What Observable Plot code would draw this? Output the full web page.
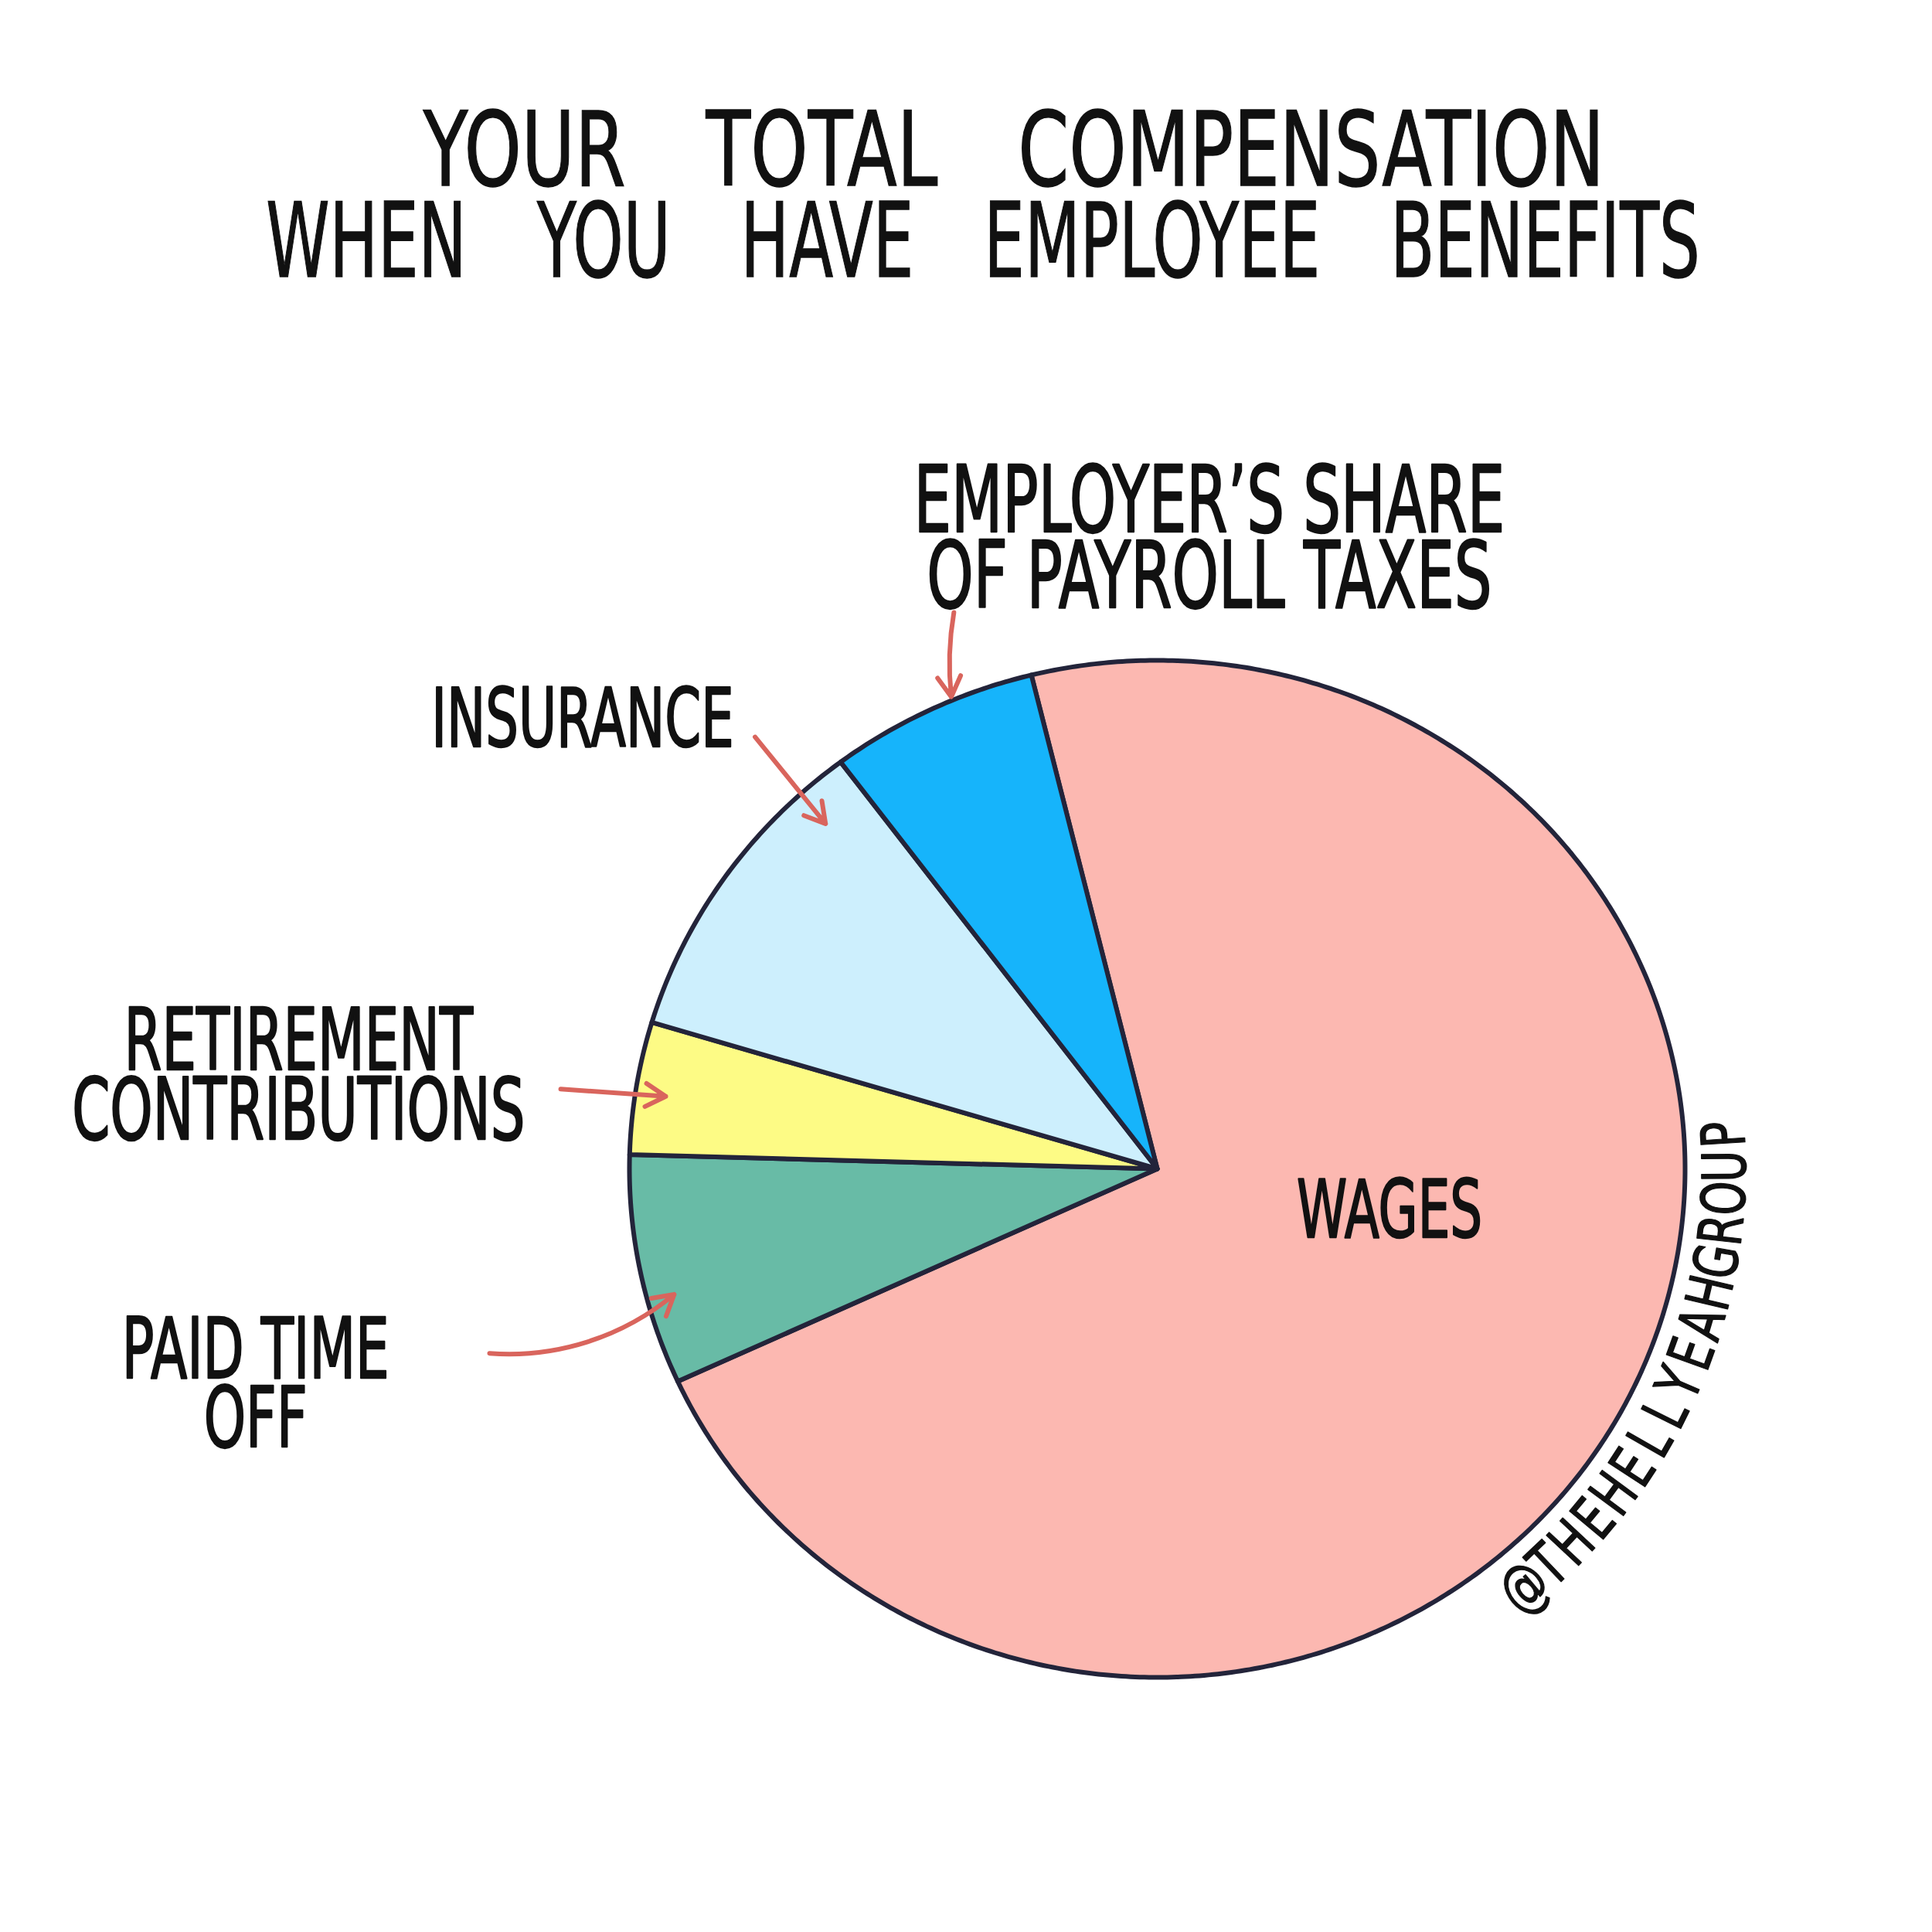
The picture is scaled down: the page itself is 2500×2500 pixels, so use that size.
<!DOCTYPE html>
<html>
<head>
<meta charset="utf-8">
<script src="https://cdn.jsdelivr.net/npm/d3@7"></script>
<script src="https://cdn.jsdelivr.net/npm/@observablehq/plot@0.6"></script>
<style>
  html, body { margin: 0; padding: 0; background: #fff; }
  #page { width: 2500px; height: 2500px; position: relative; overflow: hidden; background: #fff; }
  #title { position: relative; width: 2500px; height: 400px; font-family: "DejaVu Sans", sans-serif; color: #111; }
  .tline { position: absolute; left: -1250px; width: 5000px; text-align: center; font-size: 134px; line-height: 134px;
           white-space: nowrap; -webkit-text-stroke: 1.5px #111; transform-origin: 2500px 50%; }
</style>
</head>
<body>
<div id="page"><div id="title"></div><div id="chart"></div></div>
<script>
// ---------------- data ----------------
const titleLines = ["YOUR TOTAL COMPENSATION", "WHEN YOU HAVE EMPLOYEE BENEFITS"];
const categories = ["Wages", "Paid time off", "Retirement contributions", "Insurance", "Employer's share of payroll taxes"];
const shares = [71.9, 7.3, 4.2, 10.1, 6.4]; // percent of total compensation
const labelTexts = ["WAGES", "PAID TIME\nOFF", "RETIREMENT\nCONTRIBUTIONS", "INSURANCE", "EMPLOYER’S SHARE\nOF PAYROLL TAXES"];
const watermark = "@THEHELLYEAHGROUP";

// ---------------- styles / layout ----------------
const palette = ["#fcb8b1", "#68bba6", "#fdfb85", "#cdeffd", "#16b4fb"];
const W = 2500, TITLE_H = 400, H = W - TITLE_H;
const CX = 1497, CY = 1512 - TITLE_H, RX = 683, RY = 658;  // pie centre and radii (px)
const START_DEG = -13.8;                                   // where the wages slice starts (clockwise from 12 o'clock)

const titleStyle = [
  {top: 127, shift: 62, sx: 0.705, ws: 105},
  {top: 245, shift: 22, sx: 0.621, ws: 104}
];
// label placement: polar angle (deg, clockwise from 12 o'clock), radius (pie radii), font size
const labelPlacement = new Map([
  ["Wages", {angle: 102.0, r: 0.450, size: 103}],
  ["Paid time off", {angle: -104.3, r: 1.763, size: 108}],
  ["Retirement contributions", {angle: -84.0, r: 1.636, size: 110}],
  ["Insurance", {angle: -51.3, r: 1.395, size: 105}],
  ["Employer's share of payroll taxes", {angle: 4.6, r: 1.230, size: 120}]
]);
const arrowPlacement = new Map([
  ["Employer's share of payroll taxes", {from: [-19.4, 1.160], to: [-22.8, 1.007], bend: -8}],
  ["Insurance", {from: [-41.9, 1.141], to: [-42.8, 0.925], bend: 0}],
  ["Retirement contributions", {from: [-82.1, 1.141], to: [-81.3, 0.942], bend: 0}],
  ["Paid time off", {from: [-106.0, 1.316], to: [-105.1, 0.948], bend: -22}]
]);
const wmPlacement = {start: 139.8, end: 86.4, r: 1.078, size: 78};

// ---------------- title ----------------
const titleEl = document.getElementById("title");
titleLines.forEach((t, i) => {
  const s = titleStyle[i];
  const d = document.createElement("div");
  d.className = "tline";
  d.textContent = t;
  d.style.top = s.top + "px";
  d.style.wordSpacing = s.ws + "px";
  d.style.transform = `translateX(${s.shift}px) scaleX(${s.sx})`;
  titleEl.appendChild(d);
});

// ---------------- geometry from data ----------------
const rad = d => d * Math.PI / 180;
const polar = (deg, r) => [r * Math.sin(rad(deg)), r * Math.cos(rad(deg))];

const table = categories.map((name, i) => ({name, share: shares[i], label: labelTexts[i]}));
const arcs = d3.pie().value(d => d.share).sort(null)
  .startAngle(rad(START_DEG)).endAngle(rad(START_DEG) + 2 * Math.PI)(table);

const slicePts = arcs.flatMap(a => {
  const n = Math.max(2, Math.ceil((a.endAngle - a.startAngle) / rad(0.5)));
  const pts = [{name: a.data.name, u: 0, v: 0}];
  for (let k = 0; k <= n; k++) {
    const t = a.startAngle + (a.endAngle - a.startAngle) * k / n;
    pts.push({name: a.data.name, u: Math.sin(t), v: Math.cos(t)});
  }
  return pts;
});

const labelData = table.map(d => {
  const p = labelPlacement.get(d.name);
  const [u, v] = polar(p.angle, p.r);
  return {...d, u, v, size: p.size};
});

const arrowData = table.filter(d => arrowPlacement.has(d.name)).map(d => {
  const p = arrowPlacement.get(d.name);
  const [u1, v1] = polar(...p.from);
  const [u2, v2] = polar(...p.to);
  return {name: d.name, u1, v1, u2, v2, bend: p.bend};
});

const wmChars = Array.from(watermark);
const wmLetters = wmChars.map((ch, i) => {
  const a = wmPlacement.start + (wmPlacement.end - wmPlacement.start) * i / (wmChars.length - 1);
  const [u, v] = polar(a, wmPlacement.r);
  return {ch, u, v, rot: a - 180};
});

// ---------------- plot ----------------
const svg = Plot.plot({
  width: W,
  height: H,
  margin: 0,
  x: {domain: [(0 - CX) / RX, (W - CX) / RX], range: [0, W], axis: null},
  y: {domain: [(CY - H) / RY, CY / RY], range: [H, 0], axis: null},
  color: {type: "ordinal", domain: categories, range: palette},
  style: {background: "#fff"},
  marks: [
    Plot.line(slicePts, {x: "u", y: "v", z: "name", fill: "name", stroke: "#23243a", strokeWidth: 6,
      curve: "linear-closed", strokeLinejoin: "round"}),
    Plot.text(labelData, {x: "u", y: "v", text: "label", fontSize: "size", fontFamily: "DejaVu Sans",
      fill: "#111", stroke: "#111", strokeWidth: 2.5, lineHeight: 0.82, textAnchor: "middle",
      lineAnchor: "middle", ariaDescription: "labels"}),
    ...arrowData.map(a => Plot.arrow([a], {x1: "u1", y1: "v1", x2: "u2", y2: "v2", bend: a.bend,
      stroke: "#d9655d", strokeWidth: 6, headLength: 7.5})),
    Plot.text(wmLetters, {x: "u", y: "v", text: "ch", rotate: "rot", fontSize: wmPlacement.size,
      fontFamily: "DejaVu Sans", fill: "#111", stroke: "#111", strokeWidth: 1.5, textAnchor: "middle",
      lineAnchor: "middle", ariaDescription: "watermark"})
  ]
});

// narrow the lettering to the hand-drawn proportions (scale about each text's own anchor)
function squeeze(root, desc, sx) {
  root.querySelectorAll(`g[aria-description="${desc}"] text`).forEach(t => {
    const tr = t.getAttribute("transform") || "";
    t.setAttribute("transform", `${tr} scale(${sx},1)`);
  });
}
squeeze(svg, "labels", 0.64);
squeeze(svg, "watermark", 0.72);

document.getElementById("chart").appendChild(svg);
</script>
</body>
</html>
